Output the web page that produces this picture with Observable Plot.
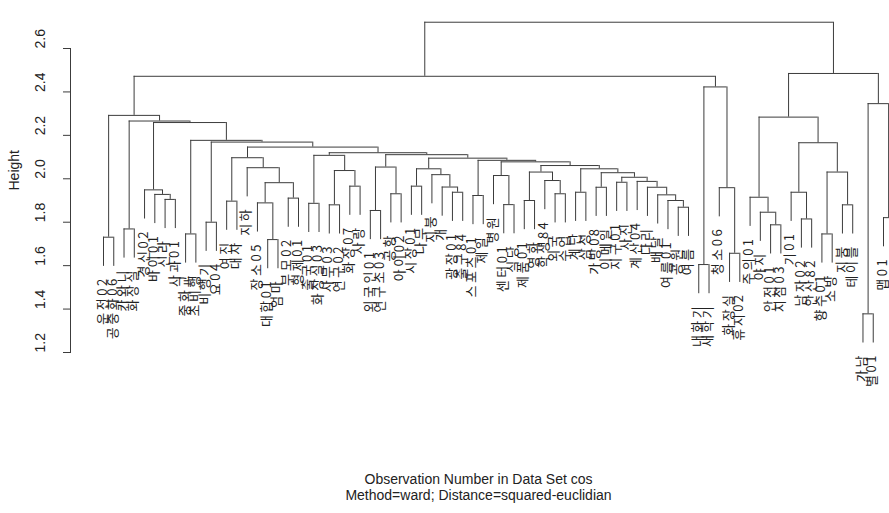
<!DOCTYPE html>
<html>
<head>
<meta charset="utf-8">
<script src="https://cdn.jsdelivr.net/npm/d3@7"></script>
<script src="https://cdn.jsdelivr.net/npm/@observablehq/plot@0.6"></script>
<style>
  body { margin: 0; background: #fff; }
  .leaf-labels text { letter-spacing: 2.5px; }
</style>
</head>
<body>
<div id="chart"></div>
<script>
// Leaf labels in display order (left to right); the last leaf lies beyond the right edge
const leafLabels = [
  "운전02","공중화06","카와니","화장실","경신02","바이01","신라","사과01",
  "중화교","초비행","비행기","요04","여진","대자","지하","장소05",
  "대합01","엄마","부모02","형제01","출국01","화장실03","사무03","연구02",
  "화장07","사랑","외국인01","연구소03","공항","아이02","시장01","나무",
  "지붕","개","광장01","출구84","스포츠01","제일","병원","센터01",
  "식당","제품01","영화","학생84","외국","수업","계단","삼성",
  "가방08","이메일","지구01","사진","계산04","다리","배달","여름01",
  "공원","여름","내화기","새학기","청소06","화장실","휴지02","주의01",
  "야지","안전01","지점03","기01","남자02","안산82","향수01","소방",
  "지붕","테이블","가남","별01","맵01",""
];

// hclust-style merge table: negative = leaf (-(index+1)), positive = earlier merge step (1-based)
const mergeLeft = [
  -1, -3, -7, -6, -5, -9, -11, -13, -17, -16,
  -19, 10, -15, 8, -21, -23, -25, 16, 15, -27,
  -29, 20, -31, -35, -34, -33, 23, -37, -40, -39,
  -42, -45, -44, 31, -47, -49, -51, -57, -56, -55,
  -54, -53, 37, 36, 35, 34, 30, 28, 27, 22,
  19, 14, 7, 6, 5, 2, 1, -59, -62, -61,
  58, 57, -66, -65, -64, -69, -68, -71, -73, 68,
  67, 65, -75, -77, 73, 72, 62
];
const mergeRight = [
  -2, -4, -8, 3, 4, -10, -12, -14, -18, 9,
  -20, 11, 12, 13, -22, -24, -26, 17, 18, -28,
  -30, 21, -32, -36, 24, 25, 26, -38, -41, 29,
  -43, -46, 32, 33, -48, -50, -52, -58, 38, 39,
  40, 41, 42, 43, 44, 45, 46, 47, 48, 49,
  50, 51, 52, 53, 54, 55, 56, -60, -63, 59,
  60, 61, -67, 63, 64, -70, 66, -72, -74, 69,
  70, 71, -76, -78, 74, 75, 76
];
const mergeHeight = [
  1.731, 1.769, 1.905, 1.928, 1.949, 1.746, 1.800, 1.897, 1.720, 1.889,
  1.911, 1.982, 2.051, 2.097, 1.887, 1.880, 1.966, 2.038, 2.108, 1.854,
  1.931, 2.054, 1.966, 1.938, 1.962, 2.019, 2.046, 1.923, 1.881, 2.015,
  1.900, 1.931, 1.992, 2.031, 1.938, 1.961, 1.984, 1.869, 1.900, 1.926,
  1.961, 1.988, 2.007, 2.028, 2.046, 2.061, 2.078, 2.085, 2.095, 2.111,
  2.120, 2.146, 2.169, 2.177, 2.259, 2.266, 2.292, 1.605, 1.657, 1.959,
  2.423, 2.472, 1.788, 1.846, 1.915, 1.815, 1.938, 1.746, 1.880, 2.031,
  2.166, 2.284, 1.378, 1.821, 2.346, 2.485, 2.721
];

const yTicks = [1.2, 1.4, 1.6, 1.8, 2.0, 2.2, 2.4, 2.6];
const hang = 0.1343;
const xTitle = "Observation Number in Data Set cos";
const subTitle = "Method=ward; Distance=squared-euclidian";
const yTitle = "Height";

// Build segments from the merge table
const nodeX = [];
const hSegs = [], vSegs = [], leaves = [];
function ref(r) {
  return r < 0 ? {x: -r - 1, h: null, leaf: true} : {x: nodeX[r - 1], h: mergeHeight[r - 1], leaf: false};
}
for (let k = 0; k < mergeHeight.length; k++) {
  const h = mergeHeight[k];
  const a = ref(mergeLeft[k]), b = ref(mergeRight[k]);
  nodeX[k] = (a.x + b.x) / 2;
  hSegs.push({y: h, x1: a.x, x2: b.x});
  for (const c of [a, b]) {
    const bottom = c.leaf ? h - hang : c.h;
    vSegs.push({x: c.x, y1: h, y2: bottom});
    if (c.leaf && leafLabels[c.x]) leaves.push({i: c.x, y: bottom, label: leafLabels[c.x]});
  }
}

const lineColor = "#3c3c3c";
const chart = Plot.plot({
  width: 889,
  height: 513,
  marginLeft: 70,
  marginRight: 3,
  marginTop: 48,
  marginBottom: 161,
  style: {fontFamily: "'Liberation Sans', Arial, sans-serif", fontSize: "14px", background: "#fff", color: "#222"},
  x: {domain: [0, 76], range: [103, 883], axis: null},
  y: {domain: [1.2, 2.6], axis: null},
  marks: [
    Plot.frame({anchor: "left", stroke: lineColor}),
    Plot.axisY({ticks: yTicks, tickSize: 7, tickFormat: () => "", label: null, stroke: lineColor}),
    Plot.text(yTicks, {y: d => d, text: d => d.toFixed(1), frameAnchor: "left", dx: -30, rotate: -90, fontSize: 14, fill: "#222"}),
    Plot.text([yTitle], {text: d => d, frameAnchor: "left", dx: -56, dy: -10, rotate: -90, fontSize: 14, fill: "#222"}),
    Plot.ruleY(hSegs, {y: "y", x1: "x1", x2: "x2", stroke: lineColor}),
    Plot.ruleX(vSegs, {x: "x", y1: "y1", y2: "y2", stroke: lineColor}),
    Plot.text(leaves, {x: "i", y: "y", text: "label", rotate: -90, textAnchor: "end", dy: 10, dx: -1,
      fontSize: 13, fontFamily: "'Noto Sans CJK KR', sans-serif", fill: "#222", className: "leaf-labels"}),
    Plot.text([xTitle], {text: d => d, frameAnchor: "bottom", dy: 131, fontSize: 14, fill: "#222"}),
    Plot.text([subTitle], {text: d => d, frameAnchor: "bottom", dy: 147, fontSize: 14, fill: "#222"})
  ]
});
document.getElementById("chart").appendChild(chart);
</script>
</body>
</html>
